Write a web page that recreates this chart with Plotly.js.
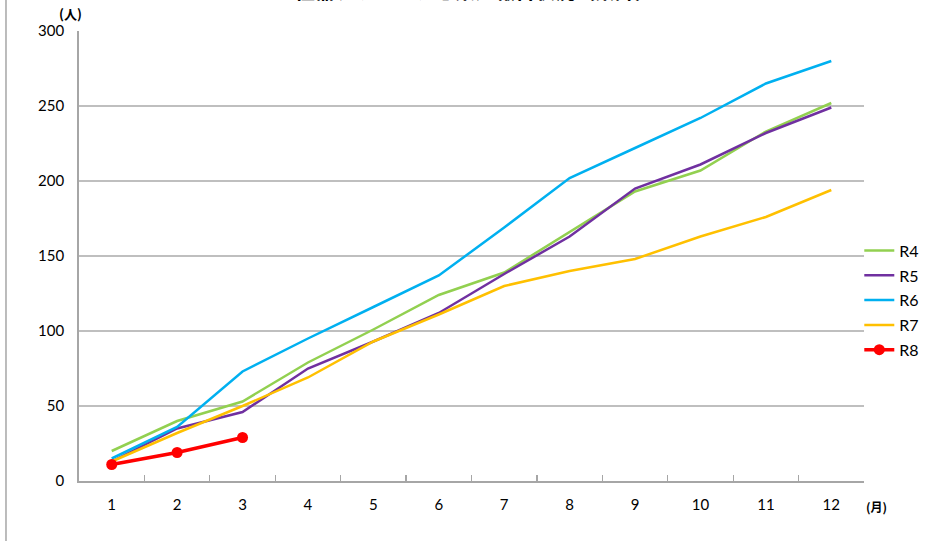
<!DOCTYPE html>
<html>
<head>
<meta charset="utf-8">
<script src="https://cdn.plot.ly/plotly-3.0.1.min.js"></script>
<style>html,body{margin:0;padding:0;background:#fff;}#chart{width:933px;height:541px;}</style>
</head>
<body>
<div id="chart"></div>
<script>
const months = [1,2,3,4,5,6,7,8,9,10,11,12];
const seriesNames = ["R4","R5","R6","R7","R8"];
const r4 = [20,40,53,79,101,124,139,166,193,207,233,252];
const r5 = [13,35,46,75,93,112,138,163,195,211,232,249];
const r6 = [15,36,73,95,116,137,169,202,222,242,265,280];
const r7 = [13,32,50,69,93,111,130,140,148,163,176,194];
const r8 = [11,19,29];
const colors = ["#92D050","#7030A0","#00B0F0","#FFC000","#FF0000"];
const titleText = "性器クラミジア感染症報告状況（累計）";
const yUnit = "(人)";
const xUnit = "(月)";

const allY = [r4,r5,r6,r7,r8];
const traces = allY.map((ys,i)=>{
  const t = {
    type:"scatter",
    mode: i===4 ? "lines+markers" : "lines",
    x: months.slice(0, ys.length).map(String),
    y: ys,
    name: seriesNames[i],
    legendgroup: seriesNames[i],
    line:{color:colors[i], width: i===4 ? 3.5 : 2.5},
    hoverinfo:"skip"
  };
  if (i===4) t.marker = {color:colors[i], size:11};
  return t;
});

const fontMain = "Lato, 'Noto Sans', sans-serif";
const layout = {
  width:933, height:541,
  margin:{l:79, r:69, t:31, b:60, autoexpand:false},
  paper_bgcolor:"#fff", plot_bgcolor:"#fff",
  showlegend:true,
  legend:{
    x:0.994, xanchor:"left", y:0.402, yanchor:"middle",
    font:{family:fontMain, size:16, color:"#000"},
    tracegroupgap:1, traceorder:"grouped", bgcolor:"rgba(0,0,0,0)"
  },
  xaxis:{
    type:"category",
    categoryorder:"array", categoryarray: months.map(String),
    range:[-0.5, 11.5],
    tickson:"boundaries", ticks:"inside", ticklen:6, tickcolor:"#a6a6a6", tickwidth:1.3,
    showline:true, linecolor:"#a6a6a6", linewidth:1.8,
    showgrid:false, zeroline:false,
    tickfont:{family:fontMain, size:15, color:"#000"},
    ticklabelstandoff:9
  },
  yaxis:{
    range:[0,300], dtick:50, tick0:0,
    showgrid:true, gridcolor:"#bfbfbf", gridwidth:1.8,
    showline:true, linecolor:"#a6a6a6", linewidth:1.8,
    zeroline:false, ticks:"",
    tickfont:{family:fontMain, size:15, color:"#000"},
    ticklabelstandoff:10
  },
  annotations:[
    {text:"<b>"+titleText+"</b>", xref:"paper", yref:"paper", x:0.504, y:1, xanchor:"center", yanchor:"bottom", yshift:24, showarrow:false,
     font:{family:"'Noto Sans CJK JP', sans-serif", size:20, color:"#000"}},
    {text:"<b>"+yUnit+"</b>", xref:"paper", yref:"paper", x:-0.011, y:1, xanchor:"center", yanchor:"bottom", yshift:6, showarrow:false,
     font:{family:"'Noto Sans CJK JP', sans-serif", size:13, color:"#000"}},
    {text:"<b>"+xUnit+"</b>", xref:"paper", yref:"paper", x:1.0, y:0, xanchor:"left", yanchor:"top", yshift:-15, showarrow:false,
     font:{family:"'Noto Sans CJK JP', sans-serif", size:12, color:"#000"}}
  ],
  shapes:[
    {type:"line", xref:"paper", yref:"paper", x0:-0.093, x1:-0.093, y0:-0.2, y1:1.2, line:{color:"#a6a6a6", width:1.5}}
  ]
};
Plotly.newPlot("chart", traces, layout, {displayModeBar:false, staticPlot:true});
</script>
</body>
</html>
